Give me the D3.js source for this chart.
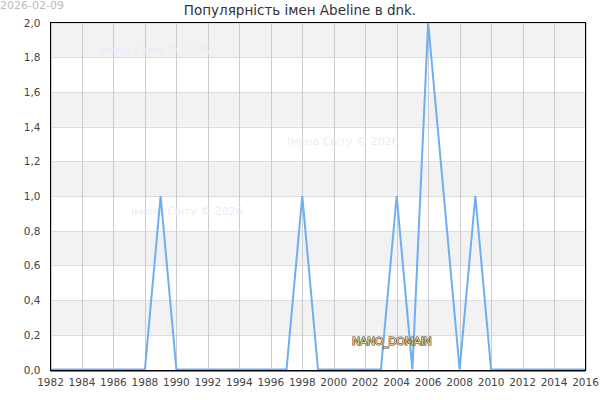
<!DOCTYPE html>
<html><head><meta charset="utf-8">
<script src="https://cdn.jsdelivr.net/npm/d3@7"></script>
<style>body{margin:0;background:#fff}svg{display:block}</style>
</head><body>
<script>
const years = d3.range(1982, 2017);
const values = [0,0,0,0,0,0,0,1,0,0,0,0,0,0,0,0,1,0,0,0,0,0,1,0,2,1,0,1,0,0,0,0,0,0,0];
const xTicks = d3.range(1982, 2017, 2);
const yTicks = [0,0.2,0.4,0.6,0.8,1.0,1.2,1.4,1.6,1.8,2.0];
const title = "Популярність імен Abeline в dnk.";
const dateLabel = "2026-02-09";
const watermark = "Імена Світу © 2026";
const watermarks = [[98,54],[287,145],[131,215]];

const W=600,H=400, L=50.5, R=585.5, T=22.5, B=370.5;
const svg = d3.select("body").append("svg").attr("width",W).attr("height",H)
  .style("font-family","'DejaVu Sans', sans-serif");
const x = d3.scaleLinear().domain([1982,2016]).range([L,R]);
const y = d3.scaleLinear().domain([0,2]).range([369.5,T]);

// bands
const bands = [[1.8,2.0],[1.4,1.6],[1.0,1.2],[0.6,0.8],[0.2,0.4]];
svg.selectAll("rect.band").data(bands).enter().append("rect")
  .attr("x",L).attr("width",R-L).attr("y",d=>y(d[1])).attr("height",d=>y(d[0])-y(d[1]))
  .attr("fill","#f2f2f2");
// horizontal grid
svg.selectAll("line.hg").data(yTicks).enter().append("line")
  .attr("x1",L).attr("x2",R).attr("y1",d=>Math.round(y(d))+0.5).attr("y2",d=>Math.round(y(d))+0.5)
  .attr("stroke","#dddddd");
// vertical grid
svg.selectAll("line.vg").data(xTicks).enter().append("line")
  .attr("y1",T).attr("y2",B).attr("x1",d=>Math.round(x(d))+0.5).attr("x2",d=>Math.round(x(d))+0.5)
  .attr("stroke","#cccccc");
// watermarks
svg.selectAll("text.wm").data(watermarks).enter().append("text")
  .attr("x",d=>d[0]).attr("y",d=>d[1]).text(watermark)
  .attr("font-size",11).attr("fill","#ebebfa");
// line
const line = d3.line().x((d,i)=>x(years[i])).y(d=>y(d));
svg.append("path").datum(values).attr("d",line).attr("fill","none")
  .attr("stroke","#6eaef2").attr("stroke-width",2);
// frame
svg.append("rect").attr("x",L).attr("y",T).attr("width",R-L).attr("height",B-T)
  .attr("fill","none").attr("stroke","#000").attr("stroke-width",1);
svg.append("line").attr("x1",L).attr("x2",R).attr("y1",B+0.5).attr("y2",B+0.5).attr("stroke","#000").attr("stroke-width",1);
// axes labels
const fmt = d=>d3.format(".1f")(d).replace(".",",");
svg.selectAll("text.yl").data(yTicks).enter().append("text")
  .attr("x",L-10).attr("y",d=>y(d)+4).attr("text-anchor","end")
  .attr("font-size",10.5).attr("fill","#444").text(fmt);
svg.selectAll("text.xl").data(xTicks).enter().append("text")
  .attr("x",d=>x(d)).attr("y",B+15.5).attr("text-anchor","middle")
  .attr("font-size",10.5).attr("fill","#444").text(d=>d);
// title
svg.append("text").attr("x",300).attr("y",15).attr("text-anchor","middle")
  .attr("font-size",13.5).attr("fill","#333").text(title);
svg.append("text").attr("x",0).attr("y",9).attr("font-size",11).attr("fill","#bbbbbb").text(dateLabel);
// nano domain
svg.append("text").attr("x",352).attr("y",345).attr("font-size",11)
  .attr("fill","#e8d8a8").attr("stroke","#4a3c1c").attr("stroke-width",1.2).attr("paint-order","stroke")
  .style("letter-spacing","-0.4px").text("NANO_DOMAIN");
</script>
</body></html>
